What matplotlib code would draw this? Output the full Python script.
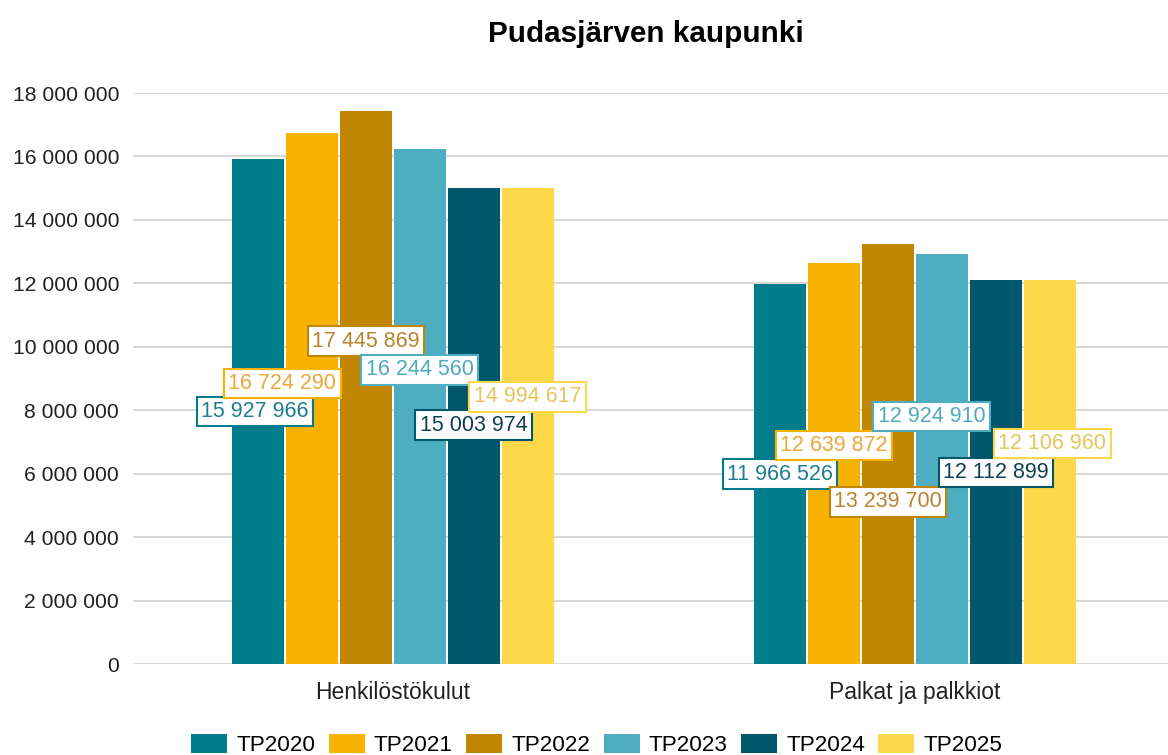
import matplotlib
matplotlib.use("Agg")
import matplotlib.pyplot as plt
import numpy as np
from matplotlib.ticker import FuncFormatter

plt.rcParams['font.family'] = ['Liberation Sans', 'DejaVu Sans']

title = "Pudasjärven kaupunki"
categories = ["Henkilöstökulut", "Palkat ja palkkiot"]
series = ["TP2020", "TP2021", "TP2022", "TP2023", "TP2024", "TP2025"]
values = {
    "TP2020": [15927966, 11966526],
    "TP2021": [16724290, 12639872],
    "TP2022": [17445869, 13239700],
    "TP2023": [16244560, 12924910],
    "TP2024": [15003974, 12112899],
    "TP2025": [14994617, 12106960],
}
yticks = [0, 2000000, 4000000, 6000000, 8000000, 10000000, 12000000, 14000000, 16000000, 18000000]

colors = ["#007C8B", "#F8B200", "#C08600", "#4FADC1", "#00566A", "#FDD84A"]
text_colors = ["#1F7E8E", "#E8A93A", "#B8822E", "#4FA9BF", "#0E3F52", "#E6C55A"]

# label placement (layout): offset in bar widths, vertical centre in data units
label_dx = [[-0.05, -0.54, 0.0, 0.0, 0.0, 0.0],
            [0.0, 0.0, 0.0, -0.19, 0.0, 0.05]]
label_y = [[7.96e6, 8.84e6, 10.18e6, 9.27e6, 7.53e6, 8.42e6],
           [5.99e6, 6.89e6, 5.11e6, 7.80e6, 6.04e6, 6.95e6]]

def fmt(v):
    return f"{int(v):,}".replace(",", " ")

fig = plt.figure(figsize=(11.68, 7.55), dpi=100)
ax = fig.add_axes([0.1139, 0.1205, 0.8861, 0.7563])

x = np.arange(len(categories))
slot = 0.1034
bw = 0.0995
for i, s in enumerate(series):
    xs = x + (i - 2.5) * slot
    ax.bar(xs, values[s], width=bw, color=colors[i], label=s, zorder=2)
    for g in range(len(categories)):
        ax.text(xs[g] + label_dx[g][i] * slot, label_y[g][i], fmt(values[s][g]),
                ha="center", va="center", fontsize=15.5, color=text_colors[i], zorder=5,
                bbox=dict(boxstyle="square,pad=0.2", facecolor="white",
                          edgecolor=colors[i], linewidth=1.5))

ax.set_xlim(-0.497, 1.485)
ax.set_ylim(0, 18000000)
ax.set_yticks(yticks)
ax.yaxis.set_major_formatter(FuncFormatter(lambda v, p: fmt(v)))
ax.set_xticks(x)
ax.set_xticklabels(categories)
ax.tick_params(axis="y", length=0, pad=10, labelsize=15.2, colors="#222222")
ax.tick_params(axis="x", length=0, pad=12, labelsize=16.5, colors="#222222")
ax.grid(axis="y", color="#D4D4D4", linewidth=1.3, zorder=0)
for sp in ax.spines.values():
    sp.set_visible(False)

fig.text(0.553, 0.955, title, ha="center", va="center", fontsize=21.3, fontweight="bold")

fig.legend(loc="center", bbox_to_anchor=(0.511, 0.013), ncol=6, frameon=False,
           fontsize=16.2, handlelength=1.6, handleheight=0.95, handletextpad=0.4,
           columnspacing=0.6)

fig.savefig("out.png", dpi=100)
